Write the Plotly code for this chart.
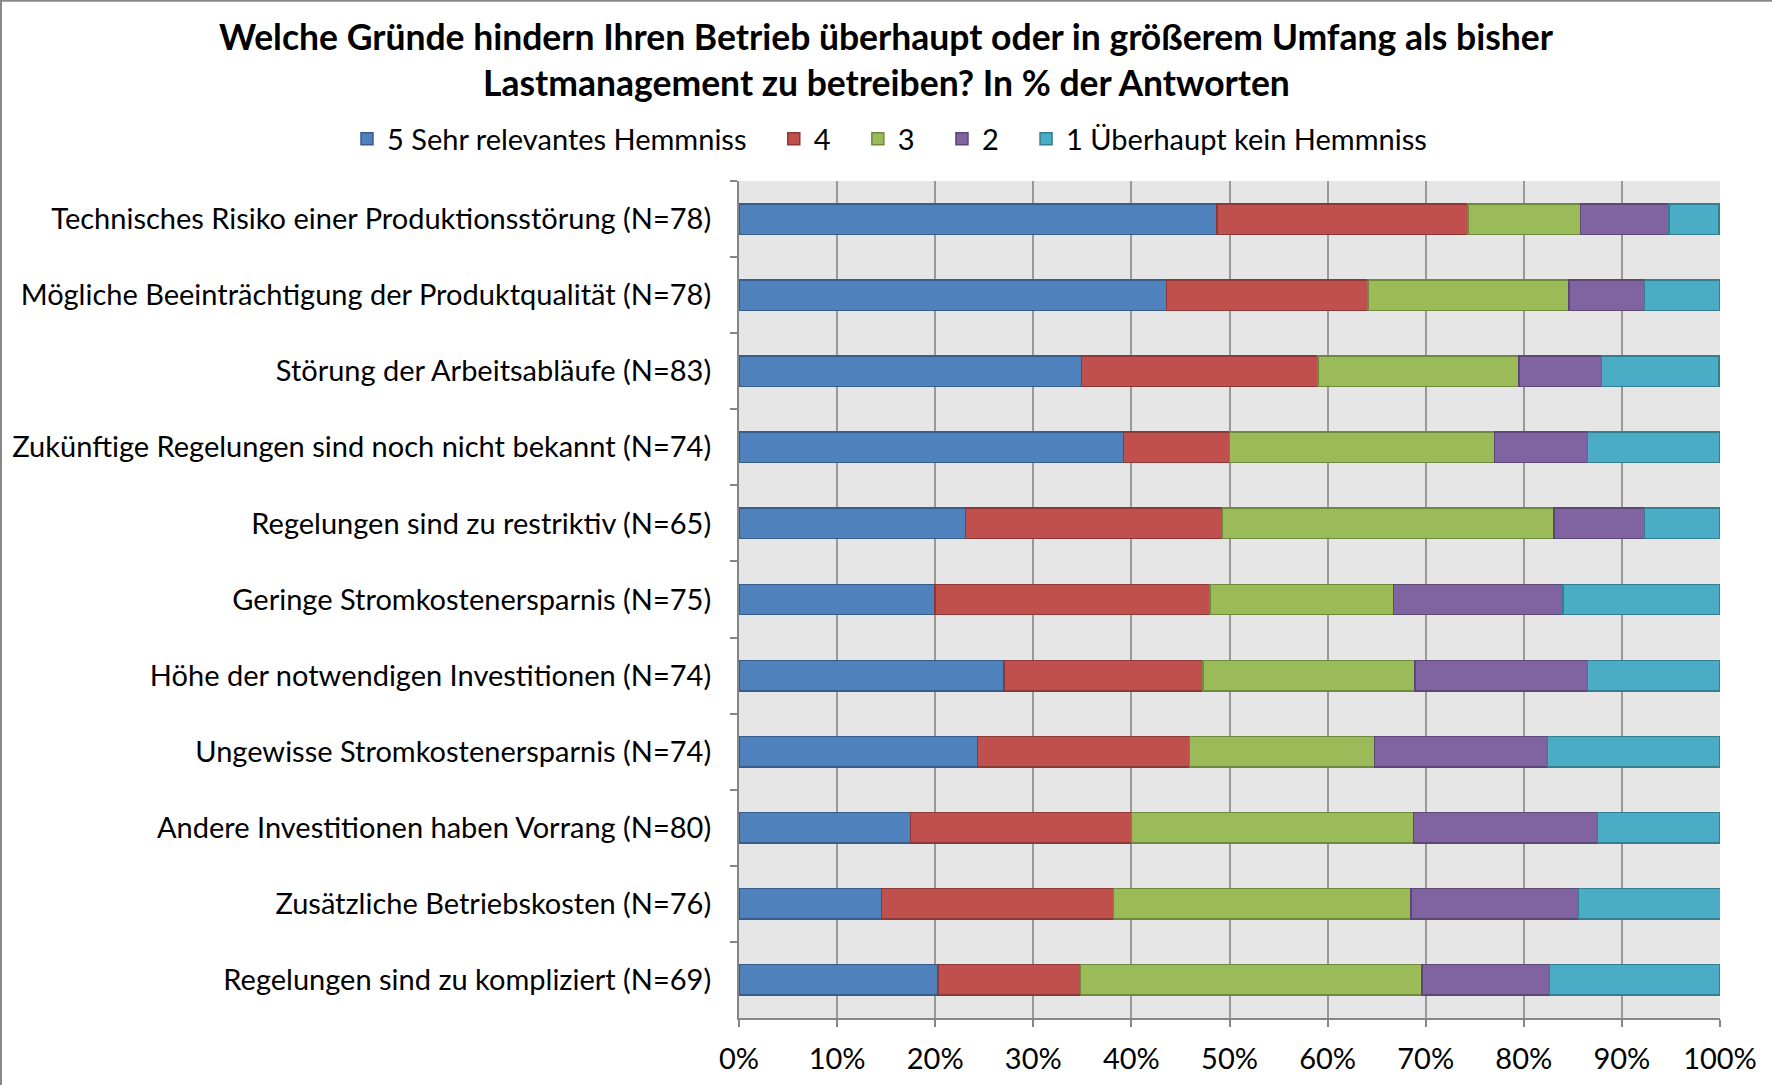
import plotly.graph_objects as go

categories = [
    "Technisches Risiko einer Produktionsstörung (N=78)",
    "Mögliche Beeinträchtigung der Produktqualität (N=78)",
    "Störung der Arbeitsabläufe (N=83)",
    "Zukünftige Regelungen sind noch nicht bekannt (N=74)",
    "Regelungen sind zu restriktiv (N=65)",
    "Geringe Stromkostenersparnis (N=75)",
    "Höhe der notwendigen Investitionen (N=74)",
    "Ungewisse Stromkostenersparnis (N=74)",
    "Andere Investitionen haben Vorrang (N=80)",
    "Zusätzliche Betriebskosten (N=76)",
    "Regelungen sind zu kompliziert (N=69)",
]

series_names = ["5 Sehr relevantes Hemmniss", "4", "3", "2", "1 Überhaupt kein Hemmniss"]

s5 = [48.7, 43.6, 34.9, 39.2, 23.1, 20.0, 27.0, 24.3, 17.5, 14.5, 20.3]
s4 = [25.6, 20.5, 24.1, 10.8, 26.2, 28.0, 20.3, 21.6, 22.5, 23.7, 14.5]
s3 = [11.5, 20.5, 20.5, 27.0, 33.8, 18.7, 21.6, 18.9, 28.75, 30.3, 34.8]
s2 = [9.0, 7.7, 8.4, 9.5, 9.2, 17.3, 17.6, 17.6, 18.75, 17.1, 13.0]
s1 = [5.1, 7.7, 12.0, 13.5, 7.7, 16.0, 13.5, 17.6, 12.5, 14.5, 17.4]

tick_vals = [0, 10, 20, 30, 40, 50, 60, 70, 80, 90, 100]
tick_text = ["0%", "10%", "20%", "30%", "40%", "50%", "60%", "70%", "80%", "90%", "100%"]

title_lines = [
    "Welche Gründe hindern Ihren Betrieb überhaupt oder in größerem Umfang als bisher",
    "Lastmanagement zu betreiben? In % der Antworten",
]

fill_colors = ["#4F81BD", "#C0504D", "#9BBB59", "#8064A2", "#4BACC6"]
line_colors = ["#385D8A", "#8C3836", "#71893F", "#5C4776", "#357D91"]

FONT = "Lato"
W, H = 1772, 1085
ML, MR, MT, MB = 739, 52, 181, 67
PW, PH = W - ML - MR, H - MT - MB
LEGEND_PAD = "\u00a0\u00a0\u00a0"

fig = go.Figure()
for i, (name, vals, fc, lc) in enumerate(zip(series_names, [s5, s4, s3, s2, s1], fill_colors, line_colors)):
    label = name + (LEGEND_PAD if i < len(series_names) - 1 else "")
    fig.add_trace(go.Bar(
        y=categories, x=vals, name=label, orientation="h",
        marker=dict(color=fc, line=dict(color=lc, width=1.5)),
        width=0.4,
    ))

annotations = []
for line, py in zip(title_lines, [36, 83]):
    annotations.append(dict(
        text="<b>" + line + "</b>", xref="paper", yref="paper",
        x=(W / 2 - ML) / PW, y=1 + (MT - py) / PH,
        xanchor="center", yanchor="middle", showarrow=False,
        font=dict(family=FONT, size=35.5, color="black"),
    ))

fig.update_layout(
    barmode="stack",
    width=W, height=H,
    margin=dict(l=ML, r=MR, t=MT, b=MB, autoexpand=False),
    paper_bgcolor="white",
    plot_bgcolor="#E6E6E6",
    font=dict(family=FONT, size=29, color="black"),
    annotations=annotations,
    legend=dict(
        orientation="h", x=(347 - ML) / PW, xanchor="left",
        y=1 + (MT - 139) / PH, yanchor="middle",
        font=dict(family=FONT, size=29), traceorder="normal",
        bgcolor="rgba(0,0,0,0)",
    ),
    xaxis=dict(
        range=[0, 100], tickvals=tick_vals, ticktext=tick_text,
        showgrid=True, gridcolor="#999999", gridwidth=1.5,
        showline=True, linecolor="#868686", linewidth=2,
        ticks="outside", ticklen=7, tickcolor="#868686", tickwidth=1.5,
        tickfont=dict(family=FONT, size=29), zeroline=False,
        ticklabelstandoff=7,
    ),
    yaxis=dict(
        autorange="reversed", type="category",
        showgrid=False, showline=True, linecolor="#868686", linewidth=2,
        ticks="outside", tickson="boundaries", ticklen=7, tickcolor="#868686", tickwidth=1.5,
        tickfont=dict(family=FONT, size=29), ticklabelstandoff=20,
    ),
    shapes=[
        dict(type="line", xref="paper", yref="paper", x0=-ML / PW, x1=1 + MR / PW,
             y0=1 + MT / PH - 0.001, y1=1 + MT / PH - 0.001, line=dict(color="#888888", width=2)),
        dict(type="line", xref="paper", yref="paper", x0=-ML / PW + 0.001, x1=-ML / PW + 0.001,
             y0=-MB / PH, y1=1 + MT / PH, line=dict(color="#888888", width=2)),
    ],
)

fig.write_html("out.html", config={"displayModeBar": False},
               post_script="document.body.style.margin='0';")
